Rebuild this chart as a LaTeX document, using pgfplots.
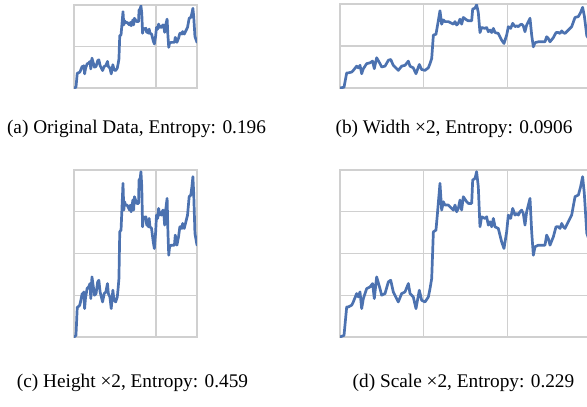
\documentclass[border=0pt]{standalone}
\usepackage{pgfplots}
\pgfplotsset{compat=1.18}
\usepackage{fontspec}
\setmainfont{Liberation Serif}
\definecolor{lineblue}{HTML}{4C72B0}
\definecolor{gridgray}{HTML}{D0D0D0}
\pgfplotstableread{
x y
0 0.0
4.8 0.01
8.0 0.18
10.0 0.18
13.9 0.19
15.9 0.21
19.9 0.26
21.9 0.24
23.9 0.27
25.9 0.17
27.9 0.23
31.9 0.29
35.9 0.30
39.0 0.32
41.0 0.23
43.8 0.36
47.8 0.29
49.8 0.25
53.8 0.26
57.8 0.33
60.6 0.34
63.7 0.27
67.7 0.23
69.7 0.21
73.7 0.26
77.7 0.27
81.7 0.32
83.7 0.26
87.6 0.24
90.8 0.17
94.8 0.28
97.6 0.22
101.6 0.21
105.6 0.24
107.6 0.29
109.6 0.35
111.6 0.63
114.7 0.64
116.3 0.73
119.5 0.92
121.5 0.76
123.5 0.81
125.5 0.79
129.5 0.79
131.5 0.78
135.5 0.76
137.5 0.79
139.4 0.75
141.4 0.77
143.4 0.82
145.4 0.76
147.4 0.84
151.4 0.81
153.4 0.80
157.4 0.80
158.6 0.94
161.4 0.95
163.3 0.99
165.3 0.90
167.3 0.66
169.3 0.72
173.3 0.71
175.3 0.72
177.3 0.67
179.3 0.69
181.3 0.66
183.3 0.71
185.3 0.66
189.2 0.65
193.2 0.57
196.0 0.53
199.2 0.63
201.2 0.73
204.0 0.71
206.4 0.77
209.2 0.73
211.2 0.74
213.2 0.73
215.1 0.75
217.1 0.76
219.1 0.74
221.1 0.67
223.1 0.75
225.1 0.79
227.1 0.83
229.1 0.63
231.1 0.49
233.1 0.54
237.1 0.55
241.0 0.55
245.0 0.55
247.0 0.61
249.0 0.59
251.0 0.55
255.0 0.60
258.2 0.66
261.0 0.66
263.0 0.65
265.0 0.68
266.9 0.66
268.9 0.65
272.9 0.69
276.9 0.73
280.9 0.84
284.9 0.85
287.6 0.90
290.0 0.96
292.0 0.86
295.0 0.62
300.0 0.55
}\datatab
\pgfplotsset{
  panel/.style={
    scale only axis,
    xmin=0, xmax=300, ymin=0, ymax=1,
    xticklabels={}, yticklabels={},
    major tick length=0pt,
    grid=major,
    grid style={gridgray, line width=1.3pt},
    axis line style={gridgray, line width=1.3pt},
    clip=true,
  },
  curve/.style={lineblue, line width=2.7pt, mark=none, line join=round, line cap=round},
}
\begin{document}
\begin{tikzpicture}[x=1pt,y=1pt]
\useasboundingbox (0,-407) rectangle (587,0);
% (a)
\begin{axis}[panel, at={(74pt,-5pt)}, anchor=north west, width=123pt, height=83pt,
  xtick={200}, ytick={0.5}]
\addplot[curve] table[x=x,y=y] {\datatab};
\end{axis}
% (b)
\begin{axis}[panel, at={(340pt,-4pt)}, anchor=north west, width=251pt, height=84pt,
  xtick={100,200}, ytick={0.5}]
\addplot[curve] table[x=x,y=y] {\datatab};
\end{axis}
% (c)
\begin{axis}[panel, at={(74pt,-170pt)}, anchor=north west, width=123pt, height=167pt,
  xtick={200}, ytick={0.25,0.5,0.75}]
\addplot[curve] table[x=x,y=y] {\datatab};
\end{axis}
% (d)
\begin{axis}[panel, at={(340pt,-170pt)}, anchor=north west, width=251pt, height=167pt,
  xtick={100,200}, ytick={0.25,0.5,0.75}]
\addplot[curve] table[x=x,y=y] {\datatab};
\end{axis}
\node[font=\fontsize{19.3}{22}\selectfont, inner sep=0pt] at (136.5,-129) {(a) Original Data, Entropy: 0.196};
\node[font=\fontsize{19.3}{22}\selectfont, inner sep=0pt] at (454,-129) {(b) Width ×2, Entropy: 0.0906};
\node[font=\fontsize{19.3}{22}\selectfont, inner sep=0pt] at (132.5,-383) {(c) Height ×2, Entropy: 0.459};
\node[font=\fontsize{19.3}{22}\selectfont, inner sep=0pt] at (463.5,-383) {(d) Scale ×2, Entropy: 0.229};
\end{tikzpicture}
\end{document}
